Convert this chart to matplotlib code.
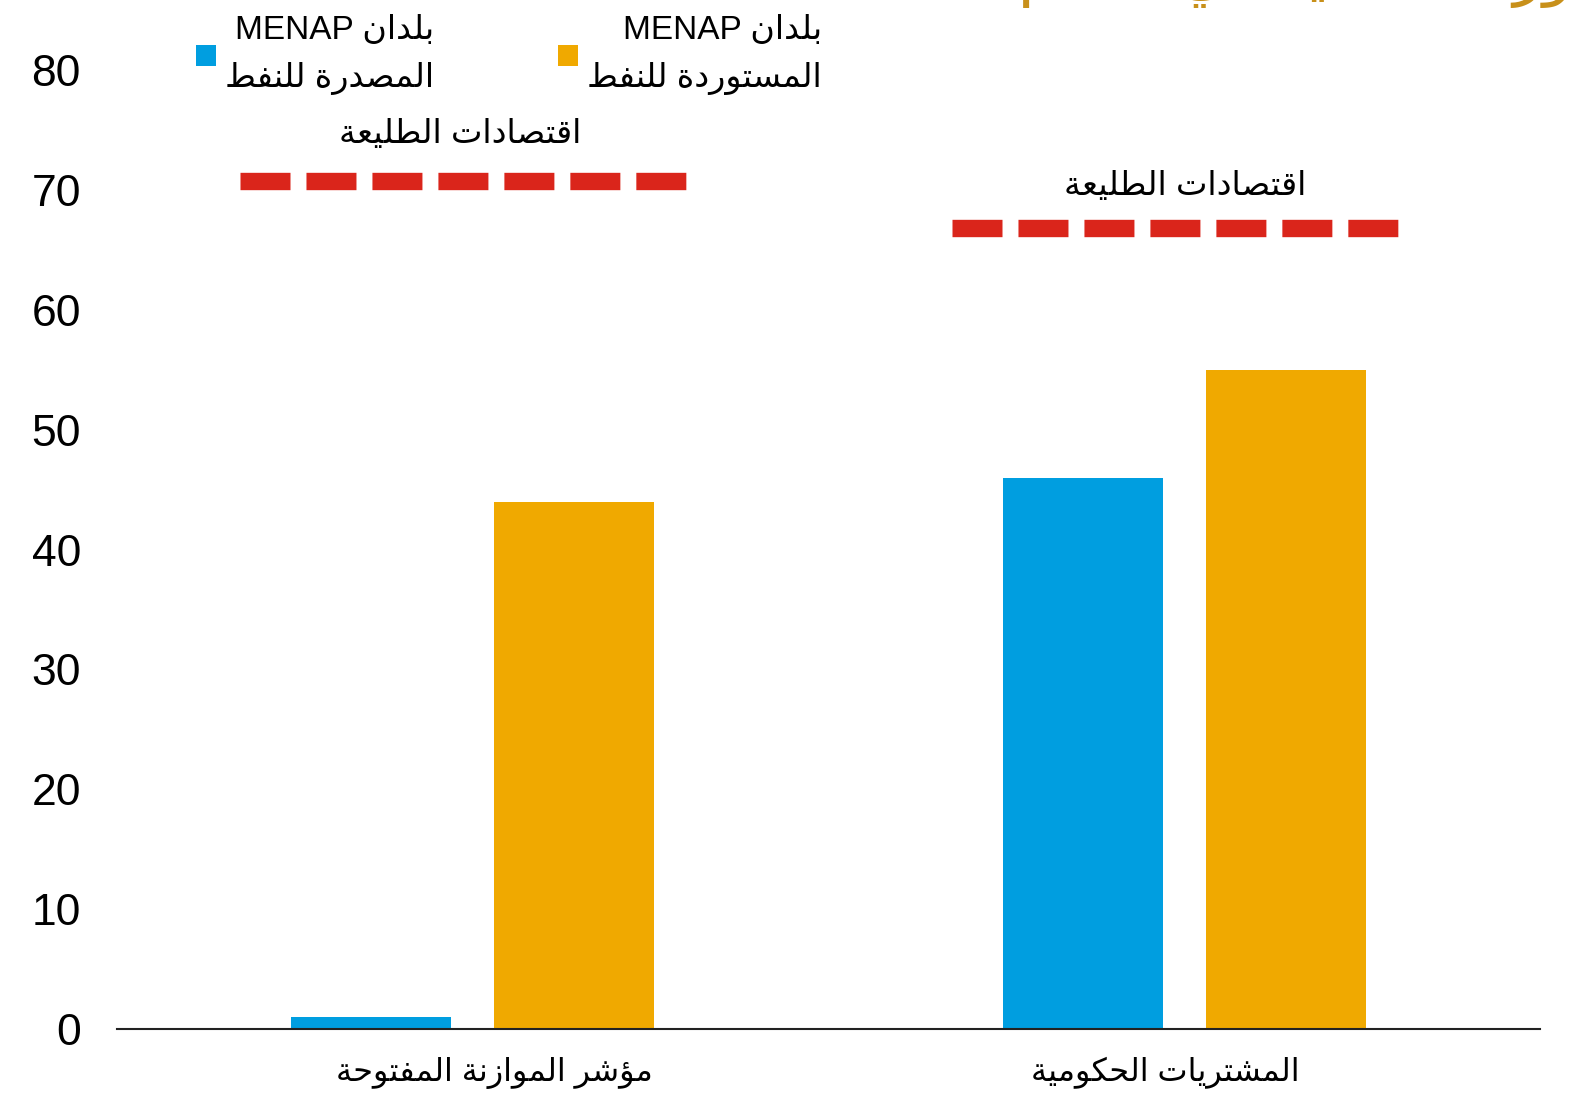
import numpy as np
import matplotlib
matplotlib.use("Agg")
import matplotlib.pyplot as plt
from matplotlib.transforms import ScaledTranslation

# data
categories = ["مؤشر الموازنة المفتوحة", "المشتريات الحكومية"]
series_names = ["بلدان MENAP\nالمصدرة للنفط", "بلدان MENAP\nالمستوردة للنفط"]
exporters = [1, 46]
importers = [44, 55]
leaders = [70.7, 66.8]
leader_label = "اقتصادات الطليعة"
title_text = "دور الشفافية في العالم"
yticks = [0, 10, 20, 30, 40, 50, 60, 70, 80]

BLUE = "#009EE0"
ORANGE = "#F0A900"
RED = "#DA251B"
GOLD = "#C8901A"

# simple arabic shaping (matplotlib has no bidi / joining)
TWO = {'آ': 0xFE81, 'أ': 0xFE83, 'ؤ': 0xFE85, 'إ': 0xFE87, 'ا': 0xFE8D, 'ة': 0xFE93,
       'د': 0xFEA9, 'ذ': 0xFEAB, 'ر': 0xFEAD, 'ز': 0xFEAF, 'و': 0xFEED, 'ى': 0xFEEF}
FOUR = {'ئ': 0xFE89, 'ب': 0xFE8F, 'ت': 0xFE95, 'ث': 0xFE99, 'ج': 0xFE9D, 'ح': 0xFEA1,
        'خ': 0xFEA5, 'س': 0xFEB1, 'ش': 0xFEB5, 'ص': 0xFEB9, 'ض': 0xFEBD, 'ط': 0xFEC1,
        'ظ': 0xFEC5, 'ع': 0xFEC9, 'غ': 0xFECD, 'ف': 0xFED1, 'ق': 0xFED5, 'ك': 0xFED9,
        'ل': 0xFEDD, 'م': 0xFEE1, 'ن': 0xFEE5, 'ه': 0xFEE9, 'ي': 0xFEF1}
LAMALEF = {'ا': 0xFEFB, 'أ': 0xFEF7, 'إ': 0xFEF9, 'آ': 0xFEF5}


def shape_word(s):
    toks = []
    i = 0
    while i < len(s):
        c = s[i]
        if c == 'ل' and i + 1 < len(s) and s[i + 1] in LAMALEF:
            toks.append(('two', LAMALEF[s[i + 1]]))
            i += 2
            continue
        if c in FOUR:
            toks.append(('four', FOUR[c]))
        elif c in TWO:
            toks.append(('two', TWO[c]))
        else:
            toks.append(('none', c))
        i += 1
    out = []
    for k, (kind, b) in enumerate(toks):
        prev = k > 0 and toks[k - 1][0] == 'four'
        nxt = k + 1 < len(toks) and toks[k + 1][0] != 'none'
        if kind == 'four':
            if prev and nxt:
                out.append(chr(b + 3))
            elif prev:
                out.append(chr(b + 1))
            elif nxt:
                out.append(chr(b + 2))
            else:
                out.append(chr(b))
        elif kind == 'two':
            out.append(chr(b + 1) if prev else chr(b))
        else:
            out.append(b)
    return out


def ar(text):
    lines = []
    for line in text.split("\n"):
        words = line.split(" ")
        vis = []
        for w in reversed(words):
            if any(ch in FOUR or ch in TWO for ch in w):
                vis.append("".join(reversed(shape_word(w))))
            else:
                vis.append(w)
        lines.append(" ".join(vis))
    return "\n".join(lines)


plt.rcParams['font.family'] = ['Liberation Sans', 'DejaVu Sans']
plt.rcParams['lines.scale_dashes'] = False

fig = plt.figure(figsize=(15.81, 11.02), dpi=100)
ax = fig.add_axes([0.074, 0.0662, 0.9, 0.8703])

x = np.arange(len(categories))
w = 0.225
off = 0.1425
b1 = ax.bar(x - off, exporters, w, color=BLUE, label=ar(series_names[0]))
b2 = ax.bar(x + off, importers, w, color=ORANGE, label=ar(series_names[1]))

dash_x = [(-0.327, 0.302), (0.674, 1.303)]
label_pos = [(-0.018, 74.6), (1.002, 70.3)]
for i, v in enumerate(leaders):
    ax.plot(dash_x[i], [v, v], color=RED, lw=12.5, dashes=(36, 11.5), solid_capstyle='butt',
            dash_capstyle='butt', clip_on=False)
    ax.text(label_pos[i][0], label_pos[i][1], ar(leader_label), ha='center', va='center',
            fontsize=24)

ax.set_xlim(-0.5, 1.5)
ax.set_ylim(0, 80)
ax.set_yticks(yticks)
ax.tick_params(axis='y', length=0, labelsize=32, pad=26)
ax.set_xticks(x)
ax.set_xticklabels([ar(c) for c in categories], fontsize=23)
ax.tick_params(axis='x', length=0, pad=20)
for lbl, dx in zip(ax.get_xticklabels(), [0.22, -0.19]):
    lbl.set_transform(lbl.get_transform() + ScaledTranslation(dx, 0, fig.dpi_scale_trans))
for s in ['top', 'right', 'left']:
    ax.spines[s].set_visible(False)
ax.spines['bottom'].set_linewidth(1.5)
ax.spines['bottom'].set_color('#222222')

leg = ax.legend(handles=[b1, b2], ncol=2, loc='lower left', bbox_to_anchor=(0.046, 0.96),
                frameon=False, fontsize=24, handlelength=0.6, handleheight=0.6,
                handletextpad=0.28, columnspacing=3.7, borderaxespad=0)
for t in leg.get_texts():
    t.set_multialignment('right')
    t.set_linespacing(1.65)

fig.text(1.012, 1.006, ar(title_text), ha='right', va='baseline', fontsize=44, color=GOLD)

fig.savefig("out.png", dpi=100)
